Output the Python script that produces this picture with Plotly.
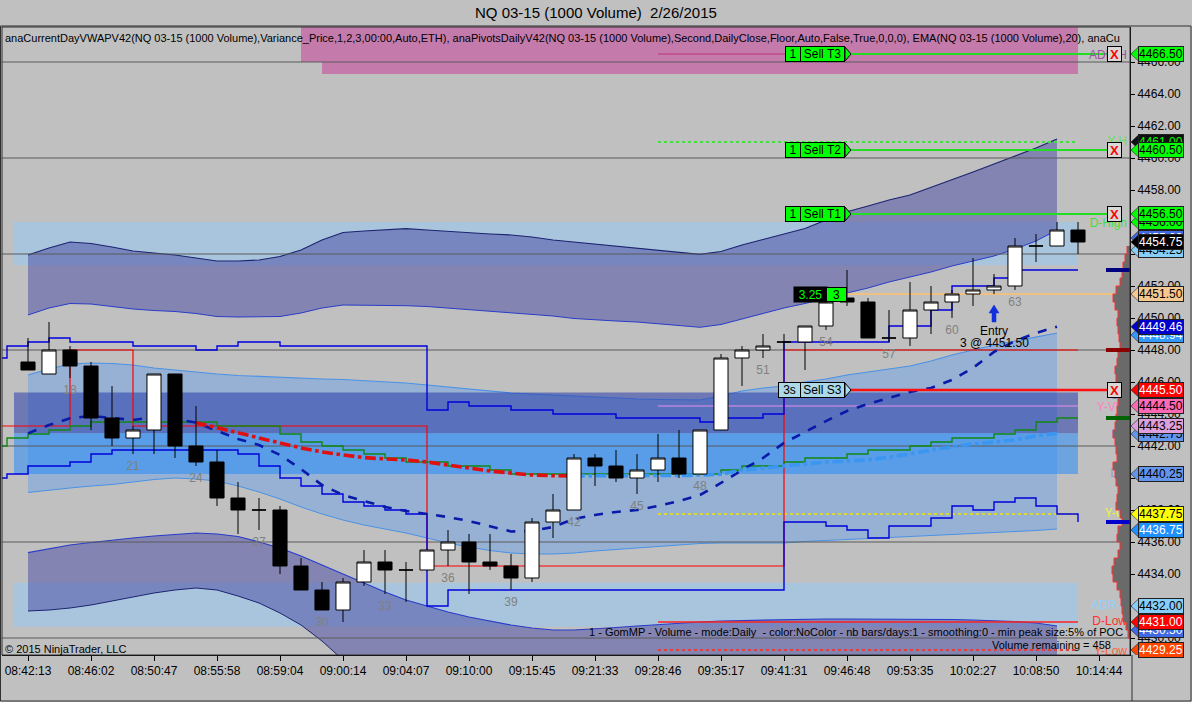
import plotly.graph_objects as go

FONT = "Liberation Sans, Arial, sans-serif"
BG = "#C0C0C0"

# ---------------- data ----------------
bars = list(range(16, 67))
opens = [4447.25, 4446.5, 4448.0, 4447.0, 4443.75, 4442.5, 4443.0, 4446.5, 4442.0, 4441.0,
         4438.75, 4438.0, 4438.0, 4434.5, 4433.0, 4431.75, 4433.5, 4434.75, 4434.25, 4434.25,
         4435.5, 4436.0, 4434.75, 4434.5, 4433.75, 4437.25, 4438.0, 4441.25, 4440.75, 4440.0,
         4440.5, 4441.25, 4440.25, 4443.0, 4447.5, 4448.0, 4448.5, 4448.5, 4449.5, 4451.25,
         4451.0, 4448.75, 4448.75, 4450.5, 4451.0, 4451.5, 4451.75, 4452.0, 4454.5, 4454.5, 4455.5]
highs = [4448.75, 4449.75, 4448.25, 4447.25, 4445.75, 4443.25, 4446.5, 4446.5, 4444.5, 4441.75,
         4439.75, 4438.75, 4438.25, 4435.0, 4433.5, 4433.75, 4435.5, 4435.5, 4434.75, 4435.5,
         4436.75, 4436.5, 4436.5, 4435.25, 4437.5, 4439.0, 4441.5, 4441.5, 4441.75, 4441.5,
         4442.75, 4443.0, 4443.0, 4447.75, 4448.25, 4449.0, 4449.0, 4449.5, 4451.0, 4453.0,
         4451.25, 4450.5, 4452.25, 4452.0, 4451.75, 4453.75, 4452.75, 4455.0, 4455.25, 4456.0, 4456.0]
lows = [4446.75, 4446.5, 4446.25, 4443.0, 4442.0, 4441.5, 4441.5, 4441.25, 4440.75, 4438.25,
        4436.5, 4436.75, 4434.0, 4433.0, 4431.75, 4431.0, 4433.25, 4432.75, 4432.25, 4434.25,
        4434.5, 4432.75, 4434.25, 4433.0, 4433.5, 4436.25, 4438.0, 4439.5, 4439.75, 4439.0,
        4439.75, 4440.0, 4440.25, 4443.0, 4445.75, 4447.5, 4448.0, 4446.75, 4449.25, 4450.75,
        4448.75, 4448.5, 4448.25, 4449.0, 4450.0, 4450.75, 4451.5, 4451.75, 4453.5, 4454.5, 4454.0]
closes = [4446.75, 4448.0, 4447.0, 4443.75, 4442.5, 4443.0, 4446.5, 4442.0, 4441.0, 4438.75,
          4438.0, 4438.0, 4434.5, 4433.0, 4431.75, 4433.5, 4434.75, 4434.25, 4434.25, 4435.5,
          4436.0, 4434.75, 4434.5, 4433.75, 4437.25, 4438.0, 4441.25, 4440.75, 4440.0, 4440.5,
          4441.25, 4440.25, 4443.0, 4447.5, 4448.0, 4448.25, 4448.5, 4449.5, 4451.0, 4451.0,
          4448.75, 4448.75, 4450.5, 4451.0, 4451.5, 4451.75, 4452.0, 4454.5, 4454.5, 4455.5, 4454.75]

numbered_bars = [18, 21, 24, 27, 30, 33, 36, 39, 42, 45, 48, 51, 54, 57, 60, 63]

time_bars = [16, 19, 22, 25, 28, 31, 34, 37, 40, 43, 46, 49, 52, 55, 58, 61, 64, 67]
time_labels = ["08:42:13", "08:46:02", "08:50:47", "08:55:58", "08:59:04", "09:00:14",
               "09:04:07", "09:10:00", "09:15:45", "09:21:33", "09:28:46", "09:35:17",
               "09:41:31", "09:46:48", "09:53:35", "10:02:27", "10:08:50", "10:14:44"]

price_ticks = [4430, 4432, 4434, 4436, 4438, 4440, 4442, 4444, 4446, 4448, 4450, 4452,
               4454, 4456, 4458, 4460, 4462, 4464, 4466]
grid_prices = [4430, 4436, 4442, 4448, 4454, 4460, 4466]

# step lines (bars 14..66)
step_bars = list(range(14, 67))
upper_step = [4447.5, 4448.25, 4448.5, 4448.75, 4448.5, 4448.5, 4448.5, 4448.25, 4448.25, 4448.25,
              4448.0, 4448.25, 4448.5, 4448.5, 4448.25, 4448.25, 4448.25, 4448.25, 4448.25, 4448.25,
              4448.25, 4444.25, 4444.75, 4444.5, 4444.5, 4444.25, 4444.25, 4444.0, 4444.0, 4444.0,
              4443.75, 4443.75, 4443.75, 4443.75, 4443.5, 4443.75, 4443.75, 4444.0, 4448.5, 4448.5,
              4448.5, 4448.5, 4448.5, 4449.5, 4449.5, 4450.5, 4452.0, 4452.0, 4452.5, 4453.0,
              4453.0, 4453.0, 4453.0]
lower_step = [4440.0, 4440.25, 4440.75, 4440.75, 4441.0, 4441.5, 4441.75, 4441.75, 4441.75, 4441.75,
              4441.75, 4441.75, 4441.5, 4440.75, 4440.0, 4439.5, 4439.0, 4438.5, 4438.25, 4438.0,
              4437.75, 4432.0, 4433.0, 4433.0, 4433.0, 4433.0, 4433.0, 4433.0, 4433.0, 4433.0,
              4433.0, 4433.0, 4433.0, 4433.0, 4433.0, 4433.0, 4433.0, 4433.0, 4437.25, 4437.25,
              4437.0, 4436.75, 4436.25, 4437.0, 4437.0, 4437.5, 4438.25, 4438.0, 4438.5, 4438.75,
              4438.25, 4437.75, 4437.25]
red_step = [4443.25, 4443.25, 4443.25, 4443.25, 4448.0, 4448.0, 4448.0, 4443.25, 4443.25, 4443.25,
            4443.25, 4443.25, 4443.25, 4443.25, 4443.25, 4443.25, 4443.25, 4443.25, 4443.25, 4443.25,
            4443.25, 4434.5, 4434.5, 4434.5, 4434.5, 4434.5, 4434.5, 4434.5, 4434.5, 4434.5,
            4434.5, 4434.5, 4434.5, 4434.5, 4434.5, 4434.5, 4434.5, 4434.5, 4448.0, 4448.0,
            4448.0, 4448.0, 4448.0, 4448.0, 4448.0, 4448.0, 4448.0, 4448.0, 4448.0, 4448.0,
            4448.0, 4448.0, 4448.0]
green_step = [4442.0, 4442.5, 4442.75, 4443.0, 4443.25, 4443.5, 4443.5, 4443.5, 4443.5, 4443.5,
              4443.5, 4443.25, 4443.25, 4443.25, 4442.75, 4442.25, 4442.0, 4441.75, 4441.5, 4441.25,
              4441.0, 4441.0, 4440.75, 4440.75, 4440.5, 4440.25, 4440.25, 4440.25, 4440.25, 4440.25,
              4440.25, 4440.25, 4440.25, 4440.25, 4440.25, 4440.5, 4440.75, 4440.75, 4441.0, 4441.25,
              4441.25, 4441.5, 4441.75, 4441.75, 4442.0, 4442.25, 4442.5, 4442.5, 4442.75, 4443.0,
              4443.5, 4443.75, 4443.75]

# navy dashed average (bars 16..65)
avg_bars = list(range(16, 66))
navy_avg = [4442.79, 4443.31, 4443.73, 4443.88, 4443.75, 4443.63, 4443.79, 4443.69, 4443.46, 4442.94,
            4442.44, 4442.06, 4441.44, 4440.56, 4439.56, 4438.94, 4438.56, 4438.19, 4437.94, 4437.75,
            4437.56, 4437.31, 4437.0, 4436.66, 4436.69, 4436.94, 4437.44, 4437.69, 4437.88, 4438.0,
            4438.25, 4438.56, 4438.94, 4439.69, 4440.5, 4441.25, 4442.19, 4442.88, 4443.56, 4444.19,
            4444.63, 4445.0, 4445.38, 4445.63, 4446.13, 4446.88, 4447.88, 4448.56, 4449.06, 4449.46]

# VWAP (bars 24..65): falling part red, rising part blue
vwap_bars = list(range(24, 66))
vwap = [4443.46, 4443.13, 4442.81, 4442.5, 4442.19, 4441.88, 4441.63, 4441.44, 4441.28, 4441.19,
        4441.13, 4441.0, 4440.81, 4440.63, 4440.44, 4440.31, 4440.19, 4440.14, 4440.13, 4440.13,
        4440.13, 4440.13, 4440.13, 4440.16, 4440.19, 4440.23, 4440.5, 4440.63, 4440.71, 4440.88,
        4441.0, 4441.06, 4441.13, 4441.31, 4441.5, 4441.75, 4441.94, 4442.13, 4442.25, 4442.38,
        4442.63, 4442.79]
vwap_turn_bar = 42

# variance bands (bars 16..65), screen rows
band_bars = list(range(16, 66))
upper_outer_top_y = [255, 248, 242, 243.5, 247, 251, 253, 255, 258, 261, 261, 260, 256.5, 250, 240,
                     232.5, 231, 229.5, 228.7, 230, 231.5, 233, 234, 235, 237, 240, 242, 244, 246.5,
                     248.5, 250.5, 252.5, 254.3, 251.5, 245, 239.5, 234, 228.5, 220, 211.7, 206, 200,
                     195, 187.5, 180, 172, 164, 156, 148, 139]
upper_outer_bot_y = [315, 308, 303.5, 304, 306.5, 309, 310.5, 311.5, 313.5, 316.5, 317, 317, 316.5, 313,
                     308, 305, 305, 305.5, 305.7, 306.5, 308, 309.5, 311, 312.5, 314, 316, 318.5, 320,
                     321, 322, 323.5, 325.5, 327.3, 324.5, 319, 313.5, 308, 303.5, 298, 293, 288, 282,
                     277, 272, 266, 261, 256, 249, 241, 230]
mid_top_y = [375, 369, 364, 363, 363.5, 365, 368, 370, 372.5, 374, 375.5, 376.5, 377.5, 378, 379,
             379.5, 380.5, 382, 383, 385, 387, 389, 391, 393, 394, 395, 396.5, 397.5, 398.5, 399,
             399.5, 400, 400, 396, 391, 388, 386, 382, 379, 375, 372, 369, 366, 361, 355, 350, 345,
             341, 337, 333]
mid_bot_y = [492.5, 490, 488, 486, 484.5, 482, 479.5, 478, 479, 481, 486, 492, 499, 507, 514, 520, 525,
             529, 533, 538, 543, 547, 550.5, 553, 554, 554, 553, 551, 549.5, 548, 546.5, 545, 543.5,
             543, 543, 543, 543, 541.5, 540.5, 540, 539, 538, 537, 536, 535, 534, 533, 531.5, 530.5,
             529]
lower_outer_top_y = [552.7, 549, 545, 542.5, 540, 538, 536, 534.5, 533, 534, 536.5, 542, 548, 556, 565,
                     574, 583, 592, 600, 606, 612, 617, 621, 625, 628, 630, 630, 629, 627.5, 626,
                     624.5, 623, 622, 621, 620.5, 620, 619.5, 619, 619, 619, 619, 619, 619, 619,
                     619.5, 620, 620.5, 621.5, 623, 626]
lower_outer_bot_y = [611, 610, 608, 605, 601, 597, 593, 590, 588, 590, 596, 603, 613, 625, 641, 660,
                     680, 700, 715, 725, 735, 745, 750, 755, 760, 765, 768, 770, 772, 774, 775, 776,
                     776, 776, 776, 776, 776, 776, 776, 776, 776, 776, 776, 776, 776, 776, 776, 776,
                     776, 776]

# zones (price low, price high)
pink_zone_a = [4466.0, 4468.5]
pink_zone_b = [4465.25, 4466.0]
lightblue_zone_up = [4453.3, 4456.0]
lightblue_zone_dn = [4430.7, 4433.45]
darkblue_zone = [4442.8, 4445.35]
brightblue_zone = [4440.25, 4442.8]

# key levels
sell_t3, sell_t2, sell_t1, sell_s3 = 4466.5, 4460.5, 4456.5, 4445.5
y_high, y_vwap, y_close, d_low, y_low = 4461.0, 4444.5, 4437.75, 4431.0, 4429.25
entry_price = 4451.5
entry_bar = 62
last_price = 4454.75

# right-hand price tags: (price, background, text colour)
tags = [
    (4461.00, "#101010", "#00FF00"),
    (4466.50, "#00FF00", "#000000"),
    (4456.00, "#00FF00", "#000000"),
    (4460.50, "#00FF00", "#000000"),
    (4456.50, "#00FF00", "#000000"),
    (4455.00, "#4169E1", "#FFFFFF"),
    (4454.25, "#87CEFA", "#000000"),
    (4454.75, "#000000", "#FFFFFF"),
    (4451.50, "#F5C890", "#000000"),
    (4448.94, "#3399FF", "#FFFFFF"),
    (4449.46, "#0000CD", "#FFFFFF"),
    (4445.50, "#FF0000", "#FFFFFF"),
    (4442.75, "#6495ED", "#000000"),
    (4443.25, "#DDA0DD", "#000000"),
    (4444.50, "#FF69B4", "#000000"),
    (4440.25, "#6495ED", "#000000"),
    (4437.75, "#FFFF00", "#000000"),
    (4436.75, "#1E90FF", "#FFFFFF"),
    (4432.00, "#87CEFA", "#000000"),
    (4430.50, "#4169E1", "#FFFFFF"),
    (4431.00, "#FF0000", "#FFFFFF"),
    (4429.25, "#FF4500", "#FFFFFF"),
]
level_names = [("ADR-H", 4466.4, "#A050A0"), ("Y-H", 4461.0, "#60E060"), ("D-High", 4455.9, "#40E040"),
               ("CP", 4445.1, "#7090C0"), ("Y-VW", 4444.35, "#FF80C0"), ("PP", 4442.7, "#80B0FF"),
               ("DP", 4440.25, "#80A0E0"), ("Y-Cl", 4437.75, "#F0F040"), ("ADR-L", 4432.0, "#90D0FF"),
               ("D-Low", 4431.0, "#FF3030"), ("Y-Low", 4429.1, "#FF6040")]

# volume profile (price levels every 0.5, widths in screen units of the profile axis)
profile_prices = [4454.5, 4454.0, 4453.5, 4453.0, 4452.5, 4452.0, 4451.5, 4451.0, 4450.5, 4450.0,
                  4449.5, 4449.0, 4448.5, 4448.0, 4447.5, 4447.0, 4446.5, 4446.0, 4445.5, 4445.0,
                  4444.5, 4444.0, 4443.5, 4443.0, 4442.5, 4442.0, 4441.5, 4441.0, 4440.5, 4440.0,
                  4439.5, 4439.0, 4438.5, 4438.0, 4437.5, 4437.0, 4436.5, 4436.0, 4435.5, 4435.0,
                  4434.5, 4434.0, 4433.5, 4433.0, 4432.5, 4432.0, 4431.5, 4431.0, 4430.5, 4430.0]
profile_sizes = [3, 5, 7, 8, 10, 14, 17, 15, 12, 13, 12, 11, 10, 12, 13, 15, 14, 12, 10, 12,
                 13, 14, 15, 17, 15, 14, 13, 17, 15, 14, 12, 13, 14, 10, 8, 12, 13, 10, 12, 16,
                 18, 17, 13, 10, 9, 8, 7, 4, 2, 1]
profile_marks = [(4453.0, "#000080"), (4448.0, "#8B0000"), (4443.75, "#006400"), (4437.25, "#0000CD")]

# ---------------- geometry helpers ----------------
PL, PR, PT, PB = 2, 1130, 27, 655
W, H = 1192, 702
BAR0_PX, BAR_W = 70, 21
PRICE0, PRICE0_PX, PT_H = 4466.0, 62, 16.0


def bx(px):
    return 18 + (px - BAR0_PX) / BAR_W


def py(ypx):
    return PRICE0 - (ypx - PRICE0_PX) / PT_H


def paper_x(px):
    return (px - PL) / (PR - PL)


def paper_y(ypx):
    return (PB - ypx) / (PB - PT)


XMIN, XMAX = bx(PL), bx(PR)
YMIN, YMAX = py(PB), py(PT)
ZONE_X0, ZONE_X1 = bx(14), bx(1078)

fig = go.Figure()


def rect_trace(lo, hi, x0, x1, color):
    fig.add_trace(go.Scatter(x=[x0, x1, x1, x0, x0], y=[lo, lo, hi, hi, lo], fill="toself",
                             fillcolor=color, line=dict(width=0), mode="lines",
                             hoverinfo="skip", showlegend=False))


def band(top_y, bot_y, fill, top_col, bot_col):
    fig.add_trace(go.Scatter(x=band_bars, y=[py(v) for v in bot_y], mode="lines",
                             line=dict(color=bot_col, width=1), hoverinfo="skip", showlegend=False))
    fig.add_trace(go.Scatter(x=band_bars, y=[py(v) for v in top_y], mode="lines", fill="tonexty",
                             fillcolor=fill, line=dict(color=top_col, width=1.2),
                             hoverinfo="skip", showlegend=False))


# zones under everything
rect_trace(pink_zone_a[0], pink_zone_a[1], bx(301), ZONE_X1, "#C47BAC")
rect_trace(pink_zone_b[0], pink_zone_b[1], bx(322), ZONE_X1, "#C47BAC")
rect_trace(lightblue_zone_up[0], lightblue_zone_up[1], ZONE_X0, ZONE_X1, "#A9C5DD")
rect_trace(lightblue_zone_dn[0], lightblue_zone_dn[1], ZONE_X0, ZONE_X1, "#A9C5DD")

# variance bands
band(upper_outer_top_y, upper_outer_bot_y, "rgba(80,82,165,0.55)", "#1C2470", "#2A3CC8")
band(lower_outer_top_y, lower_outer_bot_y, "rgba(80,82,165,0.55)", "#2A3CC8", "#1C2470")
band(mid_top_y, mid_bot_y, "rgba(100,160,235,0.45)", "#4A92E6", "#4A92E6")

rect_trace(darkblue_zone[0], darkblue_zone[1], ZONE_X0, ZONE_X1, "rgba(40,60,170,0.55)")
rect_trace(brightblue_zone[0], brightblue_zone[1], ZONE_X0, ZONE_X1, "rgba(40,140,250,0.55)")

# grid lines
gx, gy = [], []
for g in grid_prices:
    gx += [XMIN, XMAX, None]
    gy += [g, g, None]
fig.add_trace(go.Scatter(x=gx, y=gy, mode="lines", line=dict(color="#5A5A5A", width=1),
                         hoverinfo="skip", showlegend=False))


def line(x, y, color, width=1, dash="solid", shape="linear"):
    fig.add_trace(go.Scatter(x=x, y=y, mode="lines", line=dict(color=color, width=width, dash=dash,
                                                               shape=shape),
                             hoverinfo="skip", showlegend=False))


# level lines
line([46, 66], [sell_t3, sell_t3], "#C0307A", 1.2)
line([46, 66], [y_high, y_high], "#40E040", 2, "dot")
line([46, 66], [y_vwap, y_vwap], "#E890E8", 1.2)
line([46, 66], [y_close, y_close], "#D8D840", 2, "dot")
line([46, 66], [d_low, d_low], "#FF2020", 1.5)
line([46, 66], [y_low, y_low], "#E04040", 2, "dot")

# step lines
line(step_bars, red_step, "#FF0000", 1.2, shape="hv")
line(step_bars, green_step, "#118811", 1.4, shape="hv")
line(step_bars, upper_step, "#0000DD", 1.4, shape="hv")
line(step_bars, lower_step, "#0000DD", 1.4, shape="hv")

# averages
line(avg_bars, navy_avg, "#0A1AA8", 2.6, "dash")
k = vwap_bars.index(vwap_turn_bar)
line(vwap_bars[:k + 1], vwap[:k + 1], "#E01010", 3.6, "dashdot")
line(vwap_bars[k:], vwap[k:], "#3A96F0", 3.6, "dashdot")

# order lines
x_flag_end, x_line_end = bx(847), bx(1116)
for lv, col, w in [(sell_t3, "#22DD22", 2), (sell_t2, "#22DD22", 2), (sell_t1, "#22DD22", 2),
                   (sell_s3, "#FF1010", 2.5)]:
    line([x_flag_end, x_line_end], [lv, lv], col, w)
line([x_flag_end, bx(1130)], [entry_price, entry_price], "#F0C080", 2)

# bar numbers (placed half a point under each numbered bar's low)
fig.add_trace(go.Scatter(
    x=numbered_bars, y=[lows[bars.index(b)] - 0.45 for b in numbered_bars],
    text=[str(b) for b in numbered_bars], mode="text", textposition="bottom center",
    textfont=dict(color="#808080", size=12, family=FONT), hoverinfo="skip", showlegend=False))

# level names near the right edge
fig.add_trace(go.Scatter(
    x=[bx(1127)] * len(level_names), y=[n[1] for n in level_names],
    text=[n[0] for n in level_names], mode="text", textposition="middle left",
    textfont=dict(color=[n[2] for n in level_names], size=12, family=FONT),
    hoverinfo="skip", showlegend=False))

# candles on an overlay axis so they sit above the filled bands
fig.add_trace(go.Candlestick(
    x=bars, open=opens, high=highs, low=lows, close=closes, xaxis="x3",
    increasing=dict(line=dict(color="black", width=1), fillcolor="white"),
    decreasing=dict(line=dict(color="black", width=1), fillcolor="black"),
    whiskerwidth=0, hoverinfo="skip", showlegend=False))

# volume profile on an overlay axis measured from the right edge
fig.add_trace(go.Scatter(
    x=profile_sizes, y=profile_prices, xaxis="x2", mode="lines", fill="tozerox",
    fillcolor="#6A6A6A", line=dict(color="#FF3030", width=1, shape="vh"),
    hoverinfo="skip", showlegend=False))

shapes = []
annotations = []

# markers on the profile
for p, c in profile_marks:
    shapes.append(dict(type="line", xref="paper", yref="y", x0=paper_x(1106), x1=paper_x(1130),
                       y0=p, y1=p, line=dict(color=c, width=4)))

# tags on the price scale
half = 7.5 / PT_H
for p, bg, fg in tags:
    shapes.append(dict(type="path", xref="paper", yref="y",
                       path=f"M {paper_x(1131)},{p} L {paper_x(1139)},{p + half} "
                            f"L {paper_x(1139)},{p - half} Z",
                       fillcolor=bg, line=dict(color="#202020", width=0.6)))
    annotations.append(dict(xref="paper", yref="y", x=paper_x(1138), y=p, xanchor="left",
                            yanchor="middle", text=f"{p:.2f}", showarrow=False,
                            font=dict(color=fg, size=12, family=FONT), bgcolor=bg,
                            bordercolor="#202020", borderwidth=1, borderpad=0))

# close boxes on order lines
for lv in [sell_t3, sell_t2, sell_t1, sell_s3]:
    annotations.append(dict(xref="paper", yref="y", x=paper_x(1122), y=lv, text="<b>X</b>",
                            showarrow=False, font=dict(color="#FF0000", size=13, family=FONT),
                            bgcolor="#D8D8D8", bordercolor="#000000", borderwidth=1, borderpad=0,
                            width=13, height=14, yanchor="middle"))

# order flags
for lv, qty, name, bg in [(sell_t3, "1", "Sell T3", "#00FF00"), (sell_t2, "1", "Sell T2", "#00FF00"),
                          (sell_t1, "1", "Sell T1", "#00FF00"), (sell_s3, "3s", "Sell S3", "#ADD8E6")]:
    annotations.append(dict(xref="x", yref="y", x=bx(778 if qty == "3s" else 785), y=lv,
                            xanchor="left", yanchor="middle", text=qty, showarrow=False,
                            font=dict(color="#000000", size=12, family=FONT), bgcolor=bg,
                            bordercolor="#000000", borderwidth=1, borderpad=0,
                            width=21 if qty == "3s" else 14, height=14))
    annotations.append(dict(xref="x", yref="y", x=bx(800), y=lv, xanchor="left", yanchor="middle",
                            text=name, showarrow=False, font=dict(color="#000000", size=12, family=FONT),
                            bgcolor=bg, bordercolor="#000000", borderwidth=1, borderpad=0,
                            width=43, height=14))
    shapes.append(dict(type="path", xref="x", yref="y",
                       path=f"M {bx(845)},{lv + 7 / PT_H} L {bx(851)},{lv} L {bx(845)},{lv - 7 / PT_H} Z",
                       fillcolor=bg, line=dict(color="#000000", width=1)))

# position marker
annotations.append(dict(xref="x", yref="y", x=bx(793), y=entry_price, xanchor="left", yanchor="middle",
                        text="3.25", showarrow=False, font=dict(color="#00FF00", size=12, family=FONT),
                        bgcolor="#000000", borderpad=0, width=33, height=15))
annotations.append(dict(xref="x", yref="y", x=bx(826), y=entry_price, xanchor="left", yanchor="middle",
                        text="3", showarrow=False, font=dict(color="#000000", size=12, family=FONT),
                        bgcolor="#00FF00", bordercolor="#000000", borderwidth=1, borderpad=0,
                        width=19, height=13))

# entry arrow (up arrow just below the entry bar) and text
ax_c = entry_bar
hw, sw = 5 / BAR_W, 2 / BAR_W
tip, neck, tail = py(305), py(313), py(322)
shapes.append(dict(type="path", xref="x", yref="y",
                   path=(f"M {ax_c},{tip} L {ax_c + hw},{neck} L {ax_c + sw},{neck} "
                         f"L {ax_c + sw},{tail} L {ax_c - sw},{tail} L {ax_c - sw},{neck} "
                         f"L {ax_c - hw},{neck} Z"),
                   fillcolor="#1030E0", line=dict(color="#1030E0", width=0.5)))
annotations.append(dict(xref="x", yref="y", x=ax_c, y=py(331), text="Entry", showarrow=False,
                        yanchor="middle", font=dict(color="#000000", size=12, family=FONT)))
annotations.append(dict(xref="x", yref="y", x=ax_c, y=py(343), text=f"3 @ {entry_price:.2f}",
                        yanchor="middle", showarrow=False,
                        font=dict(color="#000000", size=12, family=FONT)))

# texts
annotations.append(dict(xref="paper", yref="paper", x=paper_x(596), y=paper_y(13), yanchor="middle",
                        text="NQ 03-15 (1000 Volume)\u00a0\u00a02/26/2015", showarrow=False,
                        font=dict(color="#000000", size=15, family=FONT)))
annotations.append(dict(xref="paper", yref="paper", x=paper_x(3), y=paper_y(38), xanchor="left",
                        yanchor="middle",
                        text="anaCurrentDayVWAPV42(NQ 03-15 (1000 Volume),Variance_Price,1,2,3,00:00,"
                             "Auto,ETH), anaPivotsDailyV42(NQ 03-15 (1000 Volume),Second,DailyClose,"
                             "Floor,Auto,False,True,0,0,0), EMA(NQ 03-15 (1000 Volume),20), anaCu",
                        showarrow=False, font=dict(color="#000000", size=11, family=FONT)))
annotations.append(dict(xref="paper", yref="paper", x=paper_x(1125), y=paper_y(632), xanchor="right",
                        yanchor="middle",
                        text="1 - GomMP - Volume - mode:Daily\u00a0 - color:NoColor - nb bars/days:1 - "
                             "smoothing:0 - min peak size:5% of POC",
                        showarrow=False, font=dict(color="#000000", size=11, family=FONT)))
annotations.append(dict(xref="paper", yref="paper", x=paper_x(1113), y=paper_y(645), xanchor="right",
                        yanchor="middle", text="Volume remaining = 458", showarrow=False,
                        font=dict(color="#000000", size=11, family=FONT)))
annotations.append(dict(xref="paper", yref="paper", x=paper_x(3), y=paper_y(649), xanchor="left",
                        yanchor="middle", text="\u00a9 2015 NinjaTrader, LLC", showarrow=False,
                        font=dict(color="#000000", size=11, family=FONT)))

# frames
shapes.append(dict(type="rect", xref="paper", yref="paper", x0=0, x1=1, y0=0, y1=1,
                   line=dict(color="#303030", width=1)))
shapes.append(dict(type="rect", xref="paper", yref="paper", x0=paper_x(0.5), x1=paper_x(1191),
                   y0=paper_y(701), y1=paper_y(26), line=dict(color="#303030", width=1)))
shapes.append(dict(type="line", xref="paper", yref="paper", x0=paper_x(1132), x1=paper_x(1132),
                   y0=paper_y(701), y1=0, line=dict(color="#303030", width=1)))

fig.update_layout(
    width=W, height=H, margin=dict(l=PL, r=W - PR, t=PT, b=H - PB),
    paper_bgcolor=BG, plot_bgcolor=BG, showlegend=False, boxgap=0.33, boxgroupgap=0,
    font=dict(family=FONT, color="#000000", size=12),
    xaxis=dict(range=[XMIN, XMAX], showgrid=False, zeroline=False, tickmode="array",
               tickvals=time_bars, ticktext=time_labels, ticks="outside", ticklen=5,
               tickcolor="#000000", showline=True, linecolor="#000000",
               tickfont=dict(size=12, family=FONT), rangeslider=dict(visible=False),
               fixedrange=True),
    xaxis2=dict(overlaying="x", anchor="y", range=[PR - PL, 0], visible=False, fixedrange=True),
    xaxis3=dict(overlaying="x", anchor="y", range=[XMIN, XMAX], visible=False, fixedrange=True,
                rangeslider=dict(visible=False)),
    yaxis=dict(range=[YMIN, YMAX], side="right", showgrid=False, zeroline=False,
               tickmode="array", tickvals=price_ticks, ticktext=[f"{t:.2f}" for t in price_ticks],
               ticks="outside", ticklen=4, tickcolor="#000000", showline=True,
               linecolor="#000000", tickfont=dict(size=12, family=FONT), fixedrange=True),
    shapes=shapes, annotations=annotations,
)

fig.write_html("out.html", config={"displayModeBar": False},
               post_script="document.body.style.margin='0';")
